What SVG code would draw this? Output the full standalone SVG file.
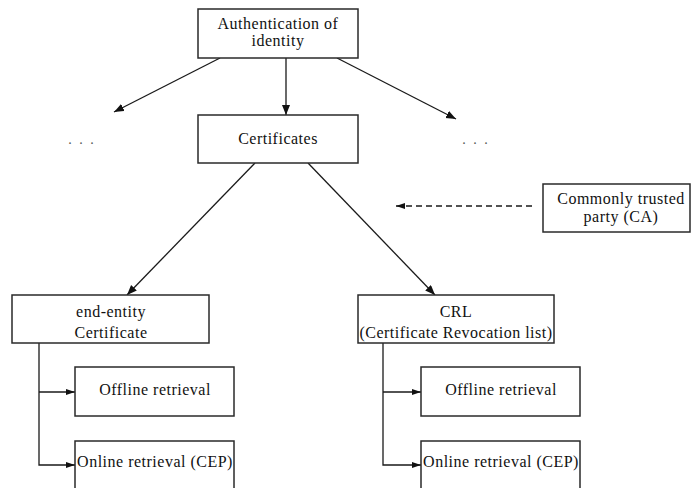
<svg xmlns="http://www.w3.org/2000/svg" width="692" height="488" viewBox="0 0 692 488">
  <style>
    .box { fill: #ffffff; stroke: #2a2a2a; stroke-width: 1.5; }
    .lbl { font-family: 'Liberation Serif', 'DejaVu Serif', 'Times New Roman', Times, serif; font-size: 16px; letter-spacing: 0.5px; fill: #111; text-anchor: middle; }
    .dots { font-family: 'Liberation Serif', 'DejaVu Serif', serif; font-size: 14px; fill: #555; letter-spacing: 2px; text-anchor: middle; }
    .edge { fill: none; stroke: #1a1a1a; stroke-width: 1.3; }
    .dash { stroke-dasharray: 6 4; }
  </style>
  <defs>
    <marker id="arrow" markerUnits="userSpaceOnUse" markerWidth="11" markerHeight="9" refX="10" refY="4" orient="auto">
      <path d="M0,0 L10,4 L0,8 z" fill="#111"/>
    </marker>
    <marker id="arrow-sm" markerUnits="userSpaceOnUse" markerWidth="10" markerHeight="7" refX="9" refY="3" orient="auto">
      <path d="M0,0 L9,3 L0,6 z" fill="#111"/>
    </marker>
  </defs>

  <rect width="692" height="488" fill="#ffffff"/>

  <!-- connectors -->
  <g id="connectors">
    <line class="edge" x1="286" y1="58" x2="286" y2="115" marker-end="url(#arrow)"/>
    <line class="edge" x1="220" y1="58" x2="114" y2="112" marker-end="url(#arrow)"/>
    <line class="edge" x1="337" y1="58" x2="456" y2="119" marker-end="url(#arrow)"/>
    <line class="edge" x1="255" y1="163" x2="127" y2="295" marker-end="url(#arrow)"/>
    <line class="edge" x1="308" y1="163" x2="435" y2="295" marker-end="url(#arrow)"/>
    <line class="edge dash" x1="532" y1="206" x2="396" y2="206" marker-end="url(#arrow-sm)"/>
    <!-- end-entity branch -->
    <polyline class="edge" points="39,343 39,465 75,465" marker-end="url(#arrow-sm)"/>
    <line class="edge" x1="39" y1="392" x2="75" y2="392" marker-end="url(#arrow-sm)"/>
    <!-- CRL branch -->
    <polyline class="edge" points="383,343 383,465 421,465" marker-end="url(#arrow-sm)"/>
    <line class="edge" x1="383" y1="392" x2="421" y2="392" marker-end="url(#arrow-sm)"/>
  </g>

  <text class="dots" x="82" y="144">. . .</text>
  <text class="dots" x="476" y="144">. . .</text>

  <g id="auth">
    <rect class="box" x="198" y="9" width="160" height="49"/>
    <text class="lbl" x="278" y="29">Authentication of</text>
    <text class="lbl" x="278" y="46">identity</text>
  </g>

  <g id="certificates">
    <rect class="box" x="198" y="115" width="160" height="48"/>
    <text class="lbl" x="278" y="144">Certificates</text>
  </g>

  <g id="ca">
    <rect class="box" x="543" y="184" width="147" height="48"/>
    <text class="lbl" x="621" y="204">Commonly trusted</text>
    <text class="lbl" x="621" y="222">party (CA)</text>
  </g>

  <g id="end-entity">
    <rect class="box" x="12" y="295" width="197" height="48"/>
    <text class="lbl" x="111" y="317">end-entity</text>
    <text class="lbl" x="111" y="338">Certificate</text>
  </g>

  <g id="crl">
    <rect class="box" x="358" y="295" width="196" height="48"/>
    <text class="lbl" x="456" y="317">CRL</text>
    <text class="lbl" x="456" y="338">(Certificate Revocation list)</text>
  </g>

  <g id="offline-left">
    <rect class="box" x="75" y="367" width="159" height="49"/>
    <text class="lbl" x="155" y="395">Offline retrieval</text>
  </g>

  <g id="online-left">
    <rect class="box" x="75" y="441" width="159" height="60"/>
    <text class="lbl" x="155" y="467">Online retrieval (CEP)</text>
  </g>

  <g id="offline-right">
    <rect class="box" x="421" y="367" width="159" height="49"/>
    <text class="lbl" x="501" y="395">Offline retrieval</text>
  </g>

  <g id="online-right">
    <rect class="box" x="421" y="441" width="159" height="60"/>
    <text class="lbl" x="501" y="467">Online retrieval (CEP)</text>
  </g>
</svg>
